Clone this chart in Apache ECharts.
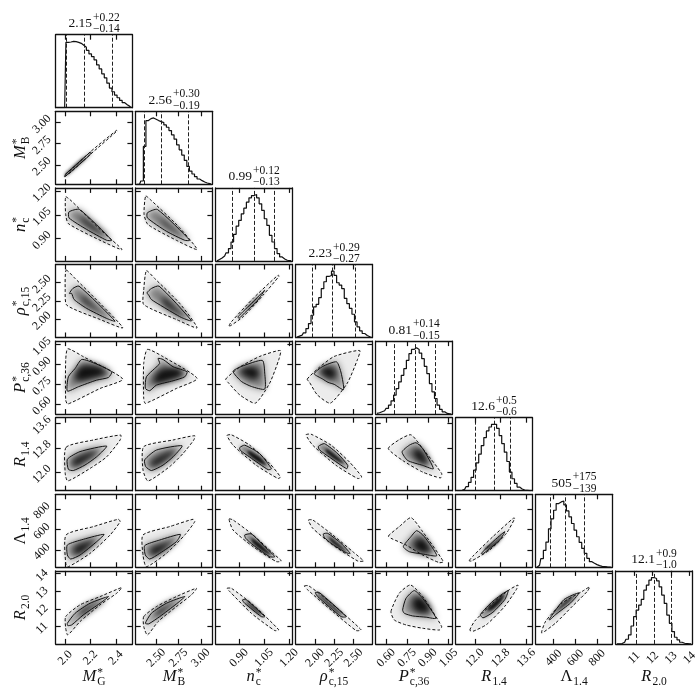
<!DOCTYPE html>
<html>
<head>
<meta charset="utf-8">
<style>
  html, body { margin: 0; background: #fff; }
  #chart { width: 700px; height: 700px; }
</style>
<script src="https://cdn.jsdelivr.net/npm/echarts@6/dist/echarts.min.js"></script>
</head>
<body>
<div id="chart"></div>
<script>
// axis limits of each parameter
const limMG = [1.925, 2.53]
const limMB = [2.27, 3.13]
const limN = [0.76, 1.22]
const limRho = [1.75, 2.745]
const limP = [0.525, 1.077]
const limR14 = [11.4, 13.79]
const limL = [234, 941]
const limR20 = [10.01, 14.16]

// tick labels
const ticksMG = ['2.0', '2.2', '2.4']
const ticksMB = ['2.50', '2.75', '3.00']
const ticksN = ['0.90', '1.05', '1.20']
const ticksRho = ['2.00', '2.25', '2.50']
const ticksP = ['0.60', '0.75', '0.90', '1.05']
const ticksR14 = ['12.0', '12.8', '13.6']
const ticksL = ['400', '600', '800']
const ticksR20 = ['11', '12', '13', '14']

// 1D histograms, 30 bins across the axis range, peak = 1
const histMG = [0, 0, 0, 0, 0.985, 0.99, 1, 0.995, 0.985, 0.97, 0.94, 0.91, 0.865, 0.81, 0.77, 0.72, 0.645, 0.585, 0.51, 0.45, 0.37, 0.295, 0.24, 0.19, 0.15, 0.11, 0.075, 0.045, 0.02, 0.005]
const histMB = [0, 0, 0.05, 0.57, 0.96, 0.99, 1, 0.98, 0.96, 0.945, 0.93, 0.895, 0.86, 0.81, 0.745, 0.68, 0.595, 0.52, 0.44, 0.36, 0.27, 0.2, 0.155, 0.115, 0.08, 0.055, 0.035, 0.02, 0.01, 0.005]
const histN = [0, 0.02, 0.045, 0.075, 0.12, 0.185, 0.285, 0.4, 0.525, 0.61, 0.71, 0.795, 0.885, 0.95, 0.985, 1, 0.95, 0.86, 0.76, 0.635, 0.535, 0.385, 0.285, 0.185, 0.11, 0.06, 0.03, 0.01, 0.005, 0]
const histRho = [0.005, 0.02, 0.035, 0.07, 0.135, 0.21, 0.335, 0.46, 0.5, 0.6, 0.735, 0.84, 0.92, 0.935, 1, 0.935, 0.825, 0.79, 0.735, 0.59, 0.51, 0.44, 0.35, 0.235, 0.16, 0.1, 0.06, 0.03, 0.01, 0.005]
const histP = [0.01, 0.02, 0.035, 0.05, 0.085, 0.135, 0.2, 0.285, 0.385, 0.485, 0.585, 0.685, 0.81, 0.91, 0.975, 1, 0.975, 0.92, 0.835, 0.72, 0.61, 0.46, 0.335, 0.235, 0.135, 0.07, 0.035, 0.01, 0.005, 0]
const histR14 = [0, 0, 0.005, 0.02, 0.06, 0.125, 0.2, 0.31, 0.42, 0.55, 0.68, 0.8, 0.9, 0.96, 1, 1, 0.94, 0.83, 0.71, 0.58, 0.44, 0.28, 0.18, 0.11, 0.055, 0.025, 0.01, 0.005, 0, 0]
const histL = [0, 0.03, 0.13, 0.255, 0.38, 0.58, 0.73, 0.86, 0.96, 0.985, 1, 0.94, 0.85, 0.76, 0.66, 0.56, 0.46, 0.375, 0.285, 0.21, 0.135, 0.085, 0.06, 0.04, 0.025, 0.015, 0.01, 0.005, 0.003, 0]
const histR20 = [0, 0, 0.005, 0.025, 0.07, 0.135, 0.27, 0.41, 0.51, 0.585, 0.67, 0.81, 0.885, 0.96, 1, 0.985, 0.95, 0.86, 0.735, 0.61, 0.435, 0.31, 0.185, 0.1, 0.06, 0.025, 0.01, 0.005, 0, 0]

// 16/50/84 percent quantiles
const qMG = [2.01, 2.15, 2.37]
const qMB = [2.37, 2.56, 2.86]
const qN = [0.86, 0.99, 1.11]
const qRho = [1.96, 2.23, 2.52]
const qP = [0.66, 0.81, 0.95]
const qR14 = [12.0, 12.6, 13.1]
const qL = [366, 505, 680]
const qR20 = [11.1, 12.1, 13.0]

// 2D contours: outer (dashed), inner (solid), core (darkest part)
const outerMBMG = [[1.995, 2.36], [2.05, 2.42], [2.2, 2.625], [2.41, 2.9], [2.405, 2.905], [2.2, 2.655], [2.05, 2.445], [1.995, 2.38]]
const innerMBMG = [[2.0, 2.365], [2.1, 2.49], [2.2, 2.625], [2.2, 2.65], [2.1, 2.52], [2.0, 2.385]]
const coreMBMG = [[2.0, 2.37], [2.1, 2.5], [2.15, 2.565], [2.15, 2.59], [2.05, 2.46], [2.0, 2.385]]

const outerNMG = [[2.004, 1.163], [2.051, 1.136], [2.275, 0.958], [2.448, 0.831], [2.275, 0.89], [2.025, 0.995], [2.004, 1.052]]
const innerNMG = [[2.03, 1.069], [2.112, 1.084], [2.367, 0.89], [2.327, 0.89], [2.17, 0.958], [2.03, 1.031]]
const coreNMG = [[2.117, 1.042], [2.209, 0.995], [2.327, 0.911], [2.275, 0.926], [2.144, 1.0]]
const outerNMB = [[2.382, 1.168], [2.446, 1.14], [2.745, 0.979], [2.958, 0.832], [2.726, 0.89], [2.408, 0.989], [2.364, 1.052]]
const innerNMB = [[2.401, 1.063], [2.513, 1.084], [2.876, 0.89], [2.82, 0.89], [2.614, 0.947], [2.401, 1.031]]
const coreNMB = [[2.539, 1.031], [2.689, 0.968], [2.82, 0.905], [2.745, 0.926], [2.576, 0.995]]

const outerRhoMG = [[2.007, 2.668], [2.078, 2.554], [2.275, 2.214], [2.454, 1.882], [2.275, 1.996], [2.012, 2.191], [2.0, 2.395]]
const innerRhoMG = [[2.033, 2.35], [2.06, 2.418], [2.109, 2.45], [2.393, 1.973], [2.327, 2.01], [2.17, 2.146], [2.07, 2.268], [2.051, 2.35]]
const coreRhoMG = [[2.13, 2.327], [2.248, 2.146], [2.354, 2.01], [2.275, 2.078], [2.143, 2.236]]
const outerRhoMB = [[2.39, 2.659], [2.483, 2.554], [2.764, 2.214], [2.958, 1.882], [2.726, 1.996], [2.36, 2.2], [2.36, 2.395]]
const innerRhoMB = [[2.397, 2.359], [2.446, 2.418], [2.532, 2.45], [2.895, 1.978], [2.782, 2.023], [2.577, 2.168], [2.446, 2.268], [2.416, 2.327]]
const coreRhoMB = [[2.577, 2.305], [2.726, 2.146], [2.857, 2.01], [2.726, 2.078], [2.577, 2.214]]
const outerRhoN = [[0.84, 1.91], [0.854, 1.964], [0.984, 2.282], [1.134, 2.6], [1.14, 2.586], [1.044, 2.327], [0.924, 2.032], [0.848, 1.91]]
const innerRhoN = [[0.894, 2.032], [0.984, 2.236], [1.054, 2.395], [1.004, 2.236], [0.934, 2.087], [0.9, 2.01]]
const coreRhoN = [[0.934, 2.123], [1.004, 2.282], [1.024, 2.305], [0.964, 2.168]]

const outerPMG = [[2.02, 1.019], [2.143, 0.959], [2.454, 0.79], [2.275, 0.719], [2.02, 0.601], [2.004, 0.631], [2.004, 0.933]]
const innerPMG = [[2.017, 0.699], [2.025, 0.807], [2.078, 0.87], [2.13, 0.938], [2.235, 0.908], [2.367, 0.845], [2.341, 0.802], [2.248, 0.782], [2.104, 0.732]]
const corePMG = [[2.117, 0.883], [2.275, 0.883], [2.327, 0.833], [2.17, 0.782], [2.078, 0.782]]
const outerPMB = [[2.401, 1.014], [2.577, 0.959], [2.958, 0.795], [2.726, 0.719], [2.378, 0.606], [2.36, 0.644], [2.36, 0.908]]
const innerPMB = [[2.378, 0.719], [2.39, 0.807], [2.483, 0.87], [2.539, 0.908], [2.521, 0.946], [2.577, 0.938], [2.689, 0.883], [2.846, 0.845], [2.82, 0.807], [2.689, 0.777], [2.502, 0.744], [2.427, 0.702]]
const corePMB = [[2.539, 0.858], [2.764, 0.87], [2.801, 0.82], [2.614, 0.77], [2.464, 0.757]]
const outerPN = [[0.82, 0.79], [0.904, 0.88], [1.024, 0.961], [1.148, 1.006], [1.138, 0.936], [1.084, 0.76], [0.998, 0.608], [0.904, 0.671], [0.834, 0.765]]
const innerPN = [[0.864, 0.848], [0.914, 0.885], [1.04, 0.931], [1.054, 0.835], [1.054, 0.714], [0.974, 0.734], [0.914, 0.772]]
const corePN = [[0.904, 0.86], [0.984, 0.885], [1.024, 0.835], [0.994, 0.785], [0.924, 0.822]]
const outerPRho = [[1.9, 0.79], [2.06, 0.88], [2.25, 0.961], [2.58, 1.006], [2.55, 0.936], [2.42, 0.76], [2.2, 0.608], [2.03, 0.671], [1.93, 0.765]]
const innerPRho = [[1.99, 0.83], [2.1, 0.885], [2.28, 0.92], [2.34, 0.835], [2.37, 0.71], [2.25, 0.75], [2.17, 0.765], [2.1, 0.79]]
const corePRho = [[2.06, 0.86], [2.2, 0.885], [2.28, 0.835], [2.22, 0.785], [2.1, 0.822]]

const outerR14MG = [[2.007, 12.82], [2.223, 13.06], [2.438, 13.22], [2.433, 13.06], [2.327, 12.51], [2.196, 12.13], [2.02, 11.72], [2.0, 11.97]]
const innerR14MG = [[2.017, 12.43], [2.117, 12.68], [2.327, 12.86], [2.248, 12.51], [2.156, 12.24], [2.064, 12.06], [2.025, 12.1]]
const coreR14MG = [[2.064, 12.41], [2.209, 12.68], [2.262, 12.68], [2.13, 12.3], [2.064, 12.19]]
const outerR14MB = [[2.36, 12.84], [2.689, 13.06], [2.932, 13.2], [2.921, 13.06], [2.801, 12.62], [2.651, 12.19], [2.408, 11.72], [2.352, 12.08]]
const innerR14MB = [[2.371, 12.41], [2.502, 12.73], [2.79, 12.87], [2.689, 12.51], [2.577, 12.24], [2.446, 12.06], [2.382, 12.19]]
const coreR14MB = [[2.446, 12.35], [2.651, 12.68], [2.726, 12.68], [2.577, 12.35], [2.446, 12.17]]
const outerR14N = [[0.828, 13.21], [0.854, 13.23], [0.964, 12.89], [1.084, 12.29], [1.148, 11.85], [1.134, 11.8], [1.004, 12.23], [0.864, 12.89]]
const innerR14N = [[0.904, 12.81], [0.934, 12.89], [1.024, 12.61], [1.094, 12.12], [1.074, 12.09], [0.964, 12.5], [0.908, 12.72]]
const coreR14N = [[0.954, 12.72], [1.024, 12.5], [1.064, 12.23], [1.014, 12.34], [0.954, 12.61]]
const outerR14Rho = [[1.884, 13.23], [1.949, 13.25], [2.209, 12.89], [2.447, 12.34], [2.607, 11.85], [2.555, 11.8], [2.274, 12.23], [1.971, 12.89]]
const innerR14Rho = [[2.044, 12.85], [2.122, 12.94], [2.296, 12.61], [2.425, 12.23], [2.412, 12.12], [2.187, 12.5], [2.057, 12.74]]
const coreR14Rho = [[2.144, 12.78], [2.296, 12.5], [2.382, 12.29], [2.274, 12.4], [2.144, 12.67]]
const outerR14P = [[0.616, 12.78], [0.695, 13.07], [0.779, 13.23], [0.863, 12.78], [1.0, 11.96], [0.991, 11.82], [0.863, 12.01], [0.719, 12.39]]
const innerR14P = [[0.715, 12.67], [0.767, 12.89], [0.815, 12.97], [0.863, 12.78], [0.94, 12.12], [0.863, 12.23], [0.755, 12.39]]
const coreR14P = [[0.791, 12.67], [0.839, 12.78], [0.899, 12.39], [0.887, 12.23], [0.815, 12.45]]

const outerLMG = [[2.007, 547], [2.223, 628], [2.419, 699], [2.433, 676], [2.354, 547], [2.196, 369], [2.025, 240], [2.004, 272]]
const innerLMG = [[2.017, 450], [2.143, 505], [2.306, 553], [2.248, 482], [2.117, 353], [2.043, 314], [2.017, 353]]
const coreLMG = [[2.078, 434], [2.222, 498], [2.248, 498], [2.143, 385], [2.078, 353]]
const outerLMB = [[2.352, 547], [2.651, 628], [2.913, 699], [2.932, 676], [2.82, 547], [2.614, 369], [2.39, 240], [2.352, 353]]
const innerLMB = [[2.371, 444], [2.539, 498], [2.771, 553], [2.726, 482], [2.539, 369], [2.427, 314], [2.378, 353]]
const coreLMB = [[2.446, 418], [2.651, 482], [2.707, 498], [2.577, 395], [2.446, 347]]
const outerLN = [[0.84, 702], [0.864, 692], [0.984, 547], [1.104, 369], [1.154, 295], [1.124, 289], [0.984, 434], [0.864, 595]]
const innerLN = [[0.934, 547], [0.974, 557], [1.054, 434], [1.114, 337], [1.084, 337], [0.984, 450], [0.94, 515]]
const coreLN = [[0.974, 515], [1.024, 466], [1.094, 353], [1.044, 385], [0.984, 466]]
const outerLRho = [[1.915, 692], [1.971, 692], [2.231, 547], [2.491, 385], [2.629, 295], [2.555, 295], [2.231, 450], [1.971, 612]]
const innerLRho = [[2.109, 557], [2.166, 563], [2.339, 466], [2.456, 369], [2.404, 376], [2.209, 466], [2.122, 524]]
const coreLRho = [[2.187, 531], [2.296, 466], [2.425, 376], [2.339, 408], [2.209, 482]]
const outerLP = [[0.616, 537], [0.695, 628], [0.779, 715], [0.863, 579], [1.012, 289], [0.983, 279], [0.863, 353], [0.743, 450], [0.635, 515]]
const innerLP = [[0.724, 434], [0.779, 531], [0.82, 589], [0.875, 531], [0.964, 347], [0.863, 363], [0.767, 385]]
const coreLP = [[0.803, 482], [0.863, 515], [0.923, 402], [0.899, 369], [0.815, 402]]
const outerLR14 = [[11.82, 298], [11.94, 343], [12.56, 531], [13.19, 708], [13.24, 708], [12.98, 563], [12.46, 402], [11.89, 295]]
const innerLR14 = [[12.2, 369], [12.56, 482], [12.93, 579], [12.77, 498], [12.41, 402], [12.22, 360]]
const coreLR14 = [[12.3, 418], [12.62, 482], [12.88, 563], [12.67, 466], [12.36, 402]]

const outerR20MG = [[2.004, 11.56], [2.117, 12.23], [2.275, 12.7], [2.446, 13.21], [2.406, 12.89], [2.275, 12.23], [2.117, 11.28], [2.02, 10.52], [2.004, 10.9]]
const innerR20MG = [[2.017, 11.18], [2.078, 11.75], [2.196, 12.32], [2.341, 12.7], [2.275, 12.32], [2.143, 11.66], [2.051, 11.09], [2.02, 11.05]]
const coreR20MG = [[2.117, 11.85], [2.222, 12.32], [2.301, 12.51], [2.209, 12.04], [2.117, 11.56]]
const outerR20MB = [[2.36, 11.56], [2.502, 12.13], [2.726, 12.7], [2.951, 13.17], [2.895, 12.8], [2.726, 12.13], [2.521, 11.28], [2.401, 10.52], [2.36, 11.0]]
const innerR20MB = [[2.378, 11.18], [2.446, 11.75], [2.614, 12.32], [2.82, 12.7], [2.726, 12.28], [2.539, 11.56], [2.416, 11.15]]
const coreR20MB = [[2.502, 11.85], [2.651, 12.28], [2.764, 12.55], [2.633, 12.04], [2.502, 11.56]]
const outerR20N = [[0.828, 13.17], [0.854, 13.17], [0.984, 12.23], [1.138, 10.81], [1.114, 10.77], [0.974, 11.75], [0.844, 12.99]]
const innerR20N = [[0.92, 12.51], [0.944, 12.51], [1.054, 11.56], [1.034, 11.56], [0.934, 12.32]]
const coreR20N = [[0.944, 12.42], [0.974, 12.23], [1.044, 11.66], [1.014, 11.75], [0.954, 12.23]]
const outerR20Rho = [[1.863, 13.31], [1.919, 13.31], [2.187, 12.42], [2.599, 10.81], [2.534, 10.77], [2.231, 11.85], [1.906, 13.08]]
const innerR20Rho = [[2.005, 12.93], [2.057, 12.93], [2.404, 11.56], [2.339, 11.56], [2.036, 12.7]]
const coreR20Rho = [[2.014, 12.89], [2.101, 12.66], [2.361, 11.66], [2.274, 11.85], [2.057, 12.7]]
const outerR20P = [[0.635, 11.85], [0.695, 12.89], [0.775, 13.36], [0.863, 12.7], [1.0, 10.99], [0.983, 10.8], [0.863, 10.9], [0.743, 11.09], [0.659, 11.37]]
const innerR20P = [[0.719, 11.94], [0.743, 12.6], [0.803, 13.04], [0.863, 12.6], [0.959, 11.47], [0.887, 11.53], [0.791, 11.6], [0.731, 11.75]]
const coreR20P = [[0.791, 12.51], [0.851, 12.7], [0.923, 11.94], [0.875, 11.75], [0.803, 11.94]]
const outerR20R14 = [[11.84, 10.79], [11.99, 11.3], [12.56, 12.34], [13.08, 13.1], [13.34, 13.35], [13.29, 13.1], [12.93, 12.15], [12.36, 11.11], [11.94, 10.73]]
const innerR20R14 = [[12.17, 11.68], [12.56, 12.44], [13.03, 13.04], [12.93, 12.53], [12.56, 11.81], [12.25, 11.49]]
const coreR20R14 = [[12.36, 11.96], [12.56, 12.34], [12.92, 12.87], [12.82, 12.43], [12.51, 11.92]]
const outerR20L = [[289, 10.63], [326, 11.3], [480, 12.34], [664, 13.0], [731, 13.25], [710, 13.0], [572, 12.15], [418, 11.2]]
const innerR20L = [[357, 11.39], [495, 12.53], [633, 12.91], [556, 12.34], [418, 11.68], [366, 11.39]]
const coreR20L = [[388, 11.68], [495, 12.34], [602, 12.81], [526, 12.34], [418, 11.81]]

// order of the parameters along the corner
const params = [
  { lim: limMG, ticks: ticksMG, hist: histMG, q: qMG, base: 'M', sup: '*', sub: 'G', italic: true, title: ['2.15', '+0.22', '\u22120.14'] },
  { lim: limMB, ticks: ticksMB, hist: histMB, q: qMB, base: 'M', sup: '*', sub: 'B', italic: true, title: ['2.56', '+0.30', '\u22120.19'] },
  { lim: limN, ticks: ticksN, hist: histN, q: qN, base: 'n', sup: '*', sub: 'c', italic: true, title: ['0.99', '+0.12', '\u22120.13'] },
  { lim: limRho, ticks: ticksRho, hist: histRho, q: qRho, base: '\u03c1', sup: '*', sub: 'c,15', italic: true, title: ['2.23', '+0.29', '\u22120.27'] },
  { lim: limP, ticks: ticksP, hist: histP, q: qP, base: 'P', sup: '*', sub: 'c,36', italic: true, title: ['0.81', '+0.14', '\u22120.15'] },
  { lim: limR14, ticks: ticksR14, hist: histR14, q: qR14, base: 'R', sup: '', sub: '1.4', italic: true, title: ['12.6', '+0.5', '\u22120.6'] },
  { lim: limL, ticks: ticksL, hist: histL, q: qL, base: '\u039b', sup: '', sub: '1.4', italic: false, title: ['505', '+175', '\u2212139'] },
  { lim: limR20, ticks: ticksR20, hist: histR20, q: qR20, base: 'R', sup: '', sub: '2.0', italic: true, title: ['12.1', '+0.9', '\u22121.0'] },
]

// row, column, outer, inner, core, narrow shape
const panels = [
  [1, 0, outerMBMG, innerMBMG, coreMBMG, true],
  [2, 0, outerNMG, innerNMG, coreNMG], [2, 1, outerNMB, innerNMB, coreNMB],
  [3, 0, outerRhoMG, innerRhoMG, coreRhoMG], [3, 1, outerRhoMB, innerRhoMB, coreRhoMB], [3, 2, outerRhoN, innerRhoN, coreRhoN, true],
  [4, 0, outerPMG, innerPMG, corePMG], [4, 1, outerPMB, innerPMB, corePMB], [4, 2, outerPN, innerPN, corePN], [4, 3, outerPRho, innerPRho, corePRho],
  [5, 0, outerR14MG, innerR14MG, coreR14MG], [5, 1, outerR14MB, innerR14MB, coreR14MB], [5, 2, outerR14N, innerR14N, coreR14N, true], [5, 3, outerR14Rho, innerR14Rho, coreR14Rho, true], [5, 4, outerR14P, innerR14P, coreR14P],
  [6, 0, outerLMG, innerLMG, coreLMG], [6, 1, outerLMB, innerLMB, coreLMB], [6, 2, outerLN, innerLN, coreLN, true], [6, 3, outerLRho, innerLRho, coreLRho, true], [6, 4, outerLP, innerLP, coreLP], [6, 5, outerLR14, innerLR14, coreLR14, true],
  [7, 0, outerR20MG, innerR20MG, coreR20MG], [7, 1, outerR20MB, innerR20MB, coreR20MB], [7, 2, outerR20N, innerR20N, coreR20N, true], [7, 3, outerR20Rho, innerR20Rho, coreR20Rho, true], [7, 4, outerR20P, innerR20P, coreR20P], [7, 5, outerR20R14, innerR20R14, coreR20R14, true], [7, 6, outerR20L, innerR20L, coreR20L, true],
]

const FONT = '"Liberation Serif", "DejaVu Serif", serif'
const colLeft = (c) => 55.7 + 80 * c
const rowTop = (r) => 34.7 + 76.6 * r
const PW = 76.7
const PH = 73
// polygons that only show their blurred shadow are drawn this far off to the left
const BLUR_SHIFT = 1200

const grid = []
const xAxis = []
const yAxis = []
const series = []
const graphic = []

const measure = document.createElement('canvas').getContext('2d')
function textWidth(text, size, italic) {
  measure.font = (italic ? 'italic ' : '') + size + 'px "Liberation Serif"'
  return measure.measureText(text).width
}

function textEl(text, x, y, size, italic) {
  return {
    type: 'text',
    x: x,
    y: y,
    silent: true,
    style: { text: text, fill: '#111', fontSize: size, fontFamily: FONT, fontStyle: italic ? 'italic' : 'normal', align: 'left', verticalAlign: 'middle', textAlign: 'left', textVerticalAlign: 'middle' },
  }
}

// base with stacked super and subscript, centred on cx, cy
function mathLabel(cx, cy, base, sup, sub, opt) {
  const bw = textWidth(base, opt.size, opt.italic)
  const sw = Math.max(textWidth(sup, opt.small, false), textWidth(sub, opt.small, false))
  const left = -(bw + sw + 1) / 2
  const children = [textEl(base, left, 0, opt.size, opt.italic)]
  if (sup) children.push(textEl(sup, left + bw + 1, opt.supY, opt.small, false))
  if (sub) children.push(textEl(sub, left + bw + 1, opt.subY, opt.small, false))
  graphic.push({ type: 'group', x: cx, y: cy, rotation: opt.rotation || 0, children: children })
}

function makeAxis(gridIndex, p, position, showTick, showLabel) {
  const values = p.ticks.map(Number)
  const isY = position === 'left' || position === 'right'
  return {
    type: 'value',
    gridIndex: gridIndex,
    position: position,
    min: p.lim[0],
    max: p.lim[1],
    z: 5,
    axisLine: { show: true, onZero: false, lineStyle: { color: '#111', width: 1.3 } },
    splitLine: { show: false },
    axisTick: { show: showTick, inside: true, length: 5, lineStyle: { color: '#111', width: 1.2 }, customValues: values },
    axisLabel: {
      show: showLabel,
      rotate: 45,
      margin: isY ? 12 : 14,
      fontSize: 12,
      fontFamily: FONT,
      color: '#111',
      align: 'center',
      verticalAlign: 'middle',
      padding: isY ? [5, 5, 0, 0] : 0,
      customValues: values,
      formatter: (v) => p.ticks[values.indexOf(v)],
    },
  }
}

// adds a grid with its four axes, returns the indexes the series use
function addGrid(r, c, yParam, isHist) {
  const g = grid.length
  grid.push({ left: colLeft(c), top: rowTop(r), width: PW, height: PH })
  const ax = { xi: xAxis.length, yi: yAxis.length }
  const yP = isHist ? { lim: [0, 1.1], ticks: [] } : yParam
  xAxis.push(makeAxis(g, params[c], 'bottom', !isHist, r === 7))
  xAxis.push(makeAxis(g, params[c], 'top', true, false))
  yAxis.push(makeAxis(g, yP, 'left', !isHist, !isHist && c === 0))
  yAxis.push(makeAxis(g, yP, 'right', !isHist, false))
  return ax
}

function polySeries(ax, pts, style, smooth, shift) {
  return {
    type: 'custom',
    xAxisIndex: ax.xi,
    yAxisIndex: ax.yi,
    clip: true,
    silent: true,
    animation: false,
    data: pts,
    encode: { x: 0, y: 1 },
    renderItem: (params, api) => {
      if (params.dataIndex !== 0) return null
      return {
        type: 'polygon',
        shape: {
          points: pts.map((p) => {
            const xy = api.coord(p)
            return [xy[0] - shift, xy[1]]
          }),
          smooth: smooth,
        },
        style: style,
      }
    },
  }
}

// only the blurred shadow of the polygon lands in the panel
function blurred(color, blur) {
  return { fill: color, shadowColor: color, shadowBlur: blur, shadowOffsetX: BLUR_SHIFT }
}

// diagonal histograms
params.forEach((p, i) => {
  const ax = addGrid(i, i, null, true)
  const bin = (p.lim[1] - p.lim[0]) / p.hist.length
  series.push({
    type: 'line',
    xAxisIndex: ax.xi,
    yAxisIndex: ax.yi,
    step: 'middle',
    symbol: 'none',
    silent: true,
    animation: false,
    lineStyle: { color: '#111', width: 1.2 },
    data: p.hist.map((v, k) => [p.lim[0] + (k + 0.5) * bin, v]),
    markLine: {
      silent: true,
      animation: false,
      symbol: ['none', 'none'],
      label: { show: false },
      lineStyle: { color: '#222', width: 1, type: [4, 2] },
      data: p.q.map((v) => ({ xAxis: v })),
    },
  })
  mathLabel(colLeft(i) + PW / 2, rowTop(i) - 11, p.title[0], p.title[1], p.title[2], { size: 13.5, small: 11.5, supY: -6, subY: 5.5 })
})

// 2D panels
panels.forEach(([r, c, outer, inner, core, narrow]) => {
  const ax = addGrid(r, c, params[r], false)
  series.push(polySeries(ax, outer, blurred('#ececec', 3), 0.2, BLUR_SHIFT))
  series.push(polySeries(ax, inner, blurred('#808080', narrow ? 4 : 7), 0.2, BLUR_SHIFT))
  series.push(polySeries(ax, core, blurred('#111111', narrow ? 3 : 6), 0.3, BLUR_SHIFT))
  series.push(polySeries(ax, outer, { fill: 'none', stroke: '#111', lineWidth: 1, lineDash: [3, 2] }, 0.2, 0))
  series.push(polySeries(ax, inner, { fill: 'none', stroke: '#111', lineWidth: 1 }, 0.2, 0))
})

// axis names
params.forEach((p, i) => {
  mathLabel(colLeft(i) + PW / 2, 677, p.base, p.sup, p.sub, { size: 16.5, small: 11.5, supY: -4, subY: 5, italic: p.italic })
  if (i > 0) {
    mathLabel(21, rowTop(i) + PH / 2, p.base, p.sup, p.sub, { size: 16.5, small: 11.5, supY: -4, subY: 5, italic: p.italic, rotation: Math.PI / 2 })
  }
})

const chart = echarts.init(document.getElementById('chart'))
chart.setOption({
  animation: false,
  backgroundColor: '#fff',
  textStyle: { fontFamily: FONT },
  grid: grid,
  xAxis: xAxis,
  yAxis: yAxis,
  series: series,
  graphic: graphic,
})
</script>
</body>
</html>
